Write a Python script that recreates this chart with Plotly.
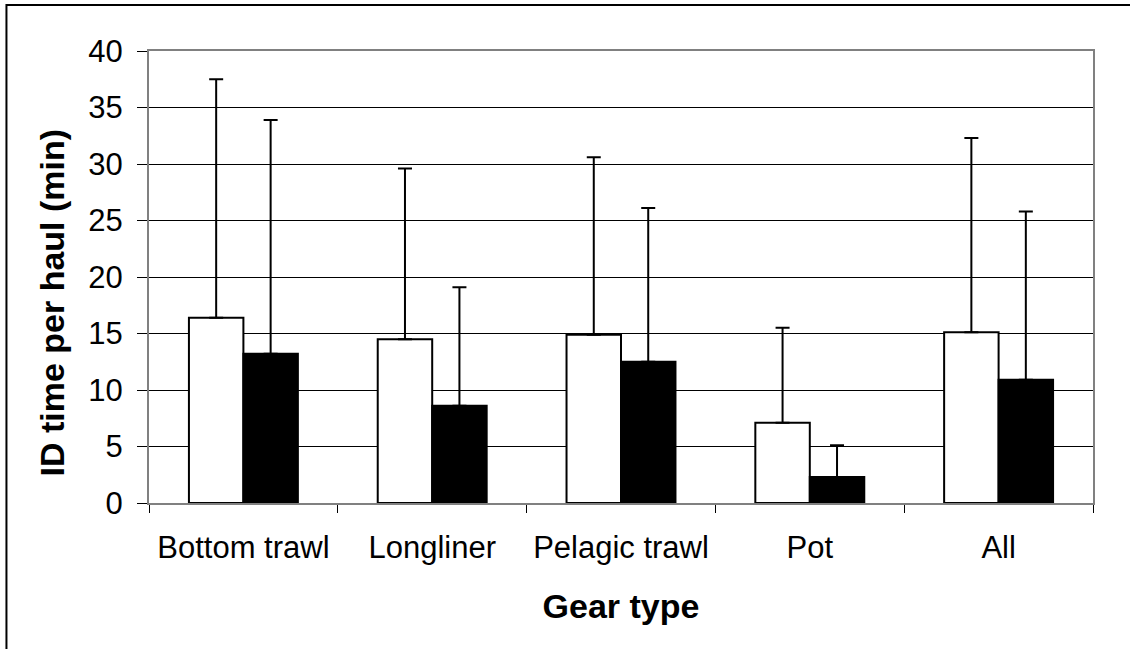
import plotly.graph_objects as go

gear_types = ["Bottom trawl", "Longliner", "Pelagic trawl", "Pot", "All"]
white_mean = [16.4, 14.5, 14.9, 7.1, 15.1]
white_sd = [21.1, 15.1, 15.7, 8.4, 17.2]
black_mean = [13.2, 8.6, 12.5, 2.3, 10.9]
black_sd = [20.7, 10.5, 13.6, 2.8, 14.9]
y_ticks = [0, 5, 10, 15, 20, 25, 30, 35, 40]

FONT = "Liberation Sans, Arial, sans-serif"

fig = go.Figure()

fig.add_trace(go.Bar(
    x=gear_types, y=white_mean, name="white",
    marker=dict(color="white", line=dict(color="black", width=2)),
    error_y=dict(type="data", array=white_sd, arrayminus=[0] * len(white_sd),
                 symmetric=False, color="black", thickness=2, width=7),
))
fig.add_trace(go.Bar(
    x=gear_types, y=black_mean, name="black",
    marker=dict(color="black", line=dict(color="black", width=2)),
    error_y=dict(type="data", array=black_sd, arrayminus=[0] * len(black_sd),
                 symmetric=False, color="black", thickness=2, width=7),
))

# outer chart border (only its top and left edges fall inside the picture)
fig.add_shape(type="rect", xref="paper", yref="paper",
              x0=-0.151, y0=-0.5, x1=1.2, y1=1.102,
              line=dict(color="black", width=2), fillcolor="rgba(0,0,0,0)")

# y title placed by hand (it sits a little below the plot centre in the original)
fig.add_annotation(text="<b>ID time per haul (min)</b>", xref="paper", yref="paper",
                   x=-0.103, y=0.443, textangle=-90, showarrow=False,
                   xanchor="center", yanchor="middle", font=dict(size=34))

fig.update_layout(
    width=1130, height=649,
    margin=dict(l=149, r=37, t=51, b=146),
    paper_bgcolor="white", plot_bgcolor="white",
    barmode="group", bargap=0.423, bargroupgap=0,
    showlegend=False,
    font=dict(family=FONT, color="black"),
    xaxis=dict(
        title=dict(text="<b>Gear type</b>", font=dict(size=34), standoff=30),
        tickfont=dict(size=31), ticks="outside", ticklen=8, tickcolor="black",
        ticklabelstandoff=16,
        tickson="boundaries", showline=True, linecolor="#808080", linewidth=2,
        mirror=True, showgrid=False,
    ),
    yaxis=dict(
        range=[0, 40], tickvals=y_ticks, tickfont=dict(size=31),
        ticks="outside", ticklen=10, tickcolor="black", ticklabelstandoff=8,
        showline=True, linecolor="#808080", linewidth=2, mirror=True,
        showgrid=True, gridcolor="black", gridwidth=1, zeroline=False,
    ),
)

fig.write_html("out.html", config={"displayModeBar": False},
               post_script="document.body.style.margin='0';")
